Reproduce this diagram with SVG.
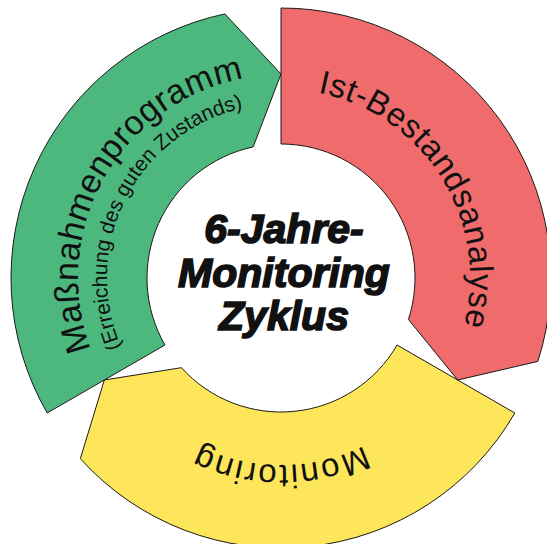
<svg xmlns="http://www.w3.org/2000/svg" xmlns:xlink="http://www.w3.org/1999/xlink" width="547" height="544" viewBox="0 0 547 544">
  <style>
    .seg { stroke: #1a1a1a; stroke-width: 1; stroke-linejoin: miter; }
    .arc { font-family: "Liberation Sans", Arial, sans-serif; fill: #111; }
    .center { font-family: "Liberation Sans", Arial, sans-serif; font-weight: bold; font-style: italic; font-size: 41px; fill: #111; stroke: #111; stroke-width: 1.6; text-anchor: middle; }
  </style>
  <defs>
    <path id="pRed" d="M 241.70 93.13 A 189 189 0 0 1 429.93 394.36"/>
    <path id="pYellow" d="M 456.72 341.96 A 187 187 0 0 1 105.28 341.96"/>
    <path id="pGreen" d="M 126.64 409.84 A 203 203 0 0 1 314.50 77.78"/>
    <path id="pGreenSub" d="M 153.75 396.67 A 174 174 0 0 1 302.21 105.30"/>
  </defs>
  <rect width="547" height="544" fill="#ffffff"/>
  <g id="connectors"></g>
  <g id="node-massnahmen">
    <path class="seg" fill="#4cb87e" d="M 47.17 413 A 270 270 0 0 1 224.86 13.9 L 281 74 L 253.14 146.93 A 134 134 0 0 0 164.95 345 Z"/>
    <text class="arc" font-size="34" letter-spacing="0.5"><textPath xlink:href="#pGreen" href="#pGreen" startOffset="50%" text-anchor="middle">Maßnahmenprogramm</textPath></text>
    <text class="arc" font-size="21"><textPath xlink:href="#pGreenSub" href="#pGreenSub" startOffset="50%" text-anchor="middle">(Erreichung des guten Zustands)</textPath></text>
  </g>
  <g id="node-monitoring">
    <path class="seg" fill="#fde65a" d="M 514.83 413 A 270 270 0 0 1 80.35 458.67 L 104.33 380 L 181.42 367.66 A 134 134 0 0 0 397.05 345 Z"/>
    <text class="arc" font-size="33" letter-spacing="1.8"><textPath xlink:href="#pYellow" href="#pYellow" startOffset="50%" text-anchor="middle">Monitoring</textPath></text>
  </g>
  <g id="node-ist">
    <path class="seg" fill="#f06b6b" d="M 281 8 A 270 270 0 0 1 537.79 361.44 L 457.67 380 L 408.44 319.41 A 134 134 0 0 0 281 144 Z"/>
    <text class="arc" font-size="33" letter-spacing="0.6"><textPath xlink:href="#pRed" href="#pRed" startOffset="50%" text-anchor="middle">Ist-Bestandsanalyse</textPath></text>
  </g>
  <g id="node-center">
    <text class="center" x="284" y="243">6-Jahre-</text>
    <text class="center" x="284" y="287">Monitoring</text>
    <text class="center" x="284" y="330">Zyklus</text>
  </g>
</svg>
